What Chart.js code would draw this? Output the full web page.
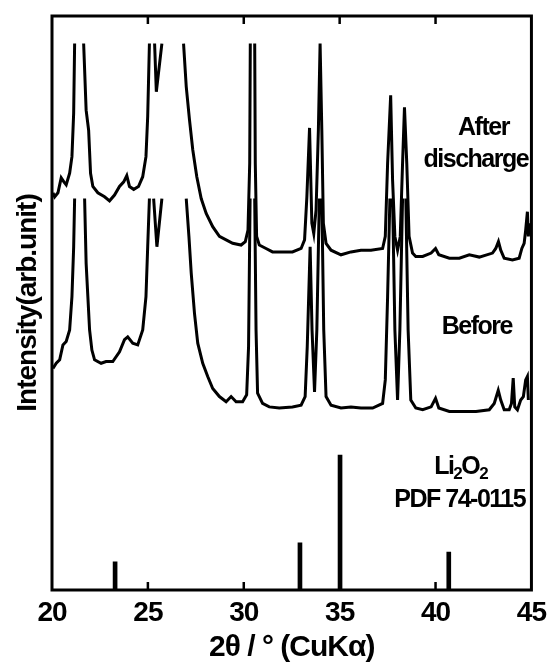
<!DOCTYPE html>
<html>
<head>
<meta charset="utf-8">
<script src="https://cdn.jsdelivr.net/npm/chart.js@4/dist/chart.umd.min.js"></script>
<style>
  html, body { margin: 0; padding: 0; background: #fff; }
  #wrap { width: 552px; height: 666px; }
</style>
</head>
<body>
<div id="wrap"><canvas id="xrd"></canvas></div>
<script>
// 2theta positions and intensities (arb. units, 0-100), null = peak cut off at the top
var afterX = [20.05,20.14,20.31,20.48,20.62,20.74,20.92,21.04,21.13,21.18,21.4,
  21.65,21.78,21.91,22.01,22.13,22.39,22.74,23.00,23.26,23.52,23.74,23.90,24.04,24.26,24.51,24.73,24.90,24.99,25.08,25.2,
  25.35,25.44,25.73,26.3,
  26.86,27.00,27.17,27.34,27.55,27.78,28.04,28.38,28.73,29.08,29.42,29.86,30.08,30.22,30.31,30.34,30.45,
  30.57,30.60,30.67,30.81,31.16,31.50,32.02,32.54,32.99,33.17,33.29,33.43,33.55,33.65,33.77,33.89,33.98,34.07,34.15,34.29,
  34.55,35.07,35.59,36.11,36.63,37.24,37.38,37.50,37.66,37.76,37.88,38.02,38.16,38.28,38.38,38.50,38.62,38.80,38.97,39.33,
  39.77,40.00,40.17,40.72,41.24,41.76,42.28,42.97,43.14,43.28,43.40,43.58,44.01,44.36,44.50,44.62,44.70,44.79,44.84,44.88];
var afterY = [69.2,68.5,69.2,71.8,71.1,70.6,72.6,75.5,83.1,95.2,null,
  95.2,83.6,80.1,72.6,70.3,69.2,68.5,67.8,68.8,70.3,71.1,72.2,70.3,69.8,70.3,72.0,75.5,82.5,95.2,null,
  95.2,86.8,95.2,null,
  95.2,87.7,81.9,76.7,72.0,68.2,65.6,63.3,61.6,61.0,60.4,60.1,60.7,62.7,74.4,95.2,null,
  95.2,74.4,61.6,60.1,59.5,58.9,58.9,58.9,59.5,61.0,68.5,80.5,63.9,62.1,66.2,80.1,95.2,80.1,63.9,60.4,
  59.2,58.4,58.9,59.2,59.2,59.5,61.6,74.3,86.2,71.4,61.6,59.2,61.6,74.3,84.1,74.3,61.6,58.7,58.1,58.1,
  58.7,59.5,58.4,57.8,57.8,58.4,58.0,58.7,59.5,60.7,59.2,57.8,57.5,57.8,59.5,60.4,62.7,65.9,61.6,63.9];

var beforeX = [20.05,20.22,20.40,20.57,20.74,20.92,21.04,21.13,21.18,21.45,
  21.70,21.78,21.87,21.96,22.08,22.22,22.56,22.82,23.17,23.52,23.78,23.95,24.21,24.47,24.73,24.90,24.99,25.08,25.2,
  25.30,25.47,25.73,26.4,
  27.00,27.14,27.26,27.43,27.60,27.86,28.12,28.38,28.73,29.08,29.34,29.60,29.94,30.15,30.25,30.33,30.45,
  30.57,30.64,30.72,30.98,31.33,31.85,32.54,32.99,33.20,33.31,33.46,33.56,33.69,33.81,33.94,34.0,
  34.07,34.17,34.29,34.55,35.07,35.59,36.11,36.72,37.24,37.38,37.50,37.62,37.69,
  37.76,37.88,38.02,38.14,38.28,38.36,
  38.45,38.57,38.71,38.97,39.33,39.77,40.00,40.17,40.72,41.41,
  42.11,42.80,43.06,43.27,43.40,43.58,43.84,43.96,44.05,44.13,44.27,44.44,44.58,44.70,44.79,44.84];
var beforeY = [38.6,39.5,40.1,42.7,43.3,45.3,51.1,59.8,68.2,null,
  68.2,56.9,51.1,45.3,41.8,40.1,39.5,39.8,39.8,41.5,43.6,44.1,43.0,42.7,45.3,51.1,59.8,68.2,null,
  68.2,59.8,68.2,null,
  68.2,61.6,55.2,48.2,43.0,39.5,37.2,35.1,33.7,32.8,33.7,32.8,32.8,34.0,42.4,68.2,null,
  68.2,45.3,34.3,32.5,31.9,31.7,31.9,32.2,33.7,42.4,59.8,45.3,34.5,45.3,68.2,null,
  68.2,45.3,33.7,32.2,31.7,31.9,31.7,31.7,32.5,36.6,51.1,68.2,null,
  68.2,45.3,33.1,45.3,68.2,null,
  68.2,45.3,33.1,31.7,31.4,31.9,33.4,31.7,31.1,31.1,
  31.1,31.4,32.5,34.8,33.1,31.4,31.4,32.5,36.9,31.9,31.4,33.1,33.7,36.6,37.2,33.1];

// Li2O2 reference pattern (PDF 74-0115)
var refX = [23.29, 32.93, 35.02, 40.69];
var refY = [4.9, 8.2, 23.5, 6.6];

var xTicks = [20, 25, 30, 35, 40, 45];

function pts(xs, ys) {
  return xs.map(function (v, i) { return { x: v, y: ys[i] }; });
}

var FONT = '"Liberation Sans", Arial, Helvetica, sans-serif';

var framePlugin = {
  id: 'frame',
  beforeLayout: function (chart) { chart.ctx.letterSpacing = '-1px'; },
  beforeDraw: function (chart) { chart.ctx.letterSpacing = '-1px'; },
  afterDraw: function (chart) {
    var ctx = chart.ctx, a = chart.chartArea, x = chart.scales.x, y = chart.scales.y;
    ctx.save();
    ctx.strokeStyle = '#000';
    ctx.lineWidth = 3;
    ctx.strokeRect(a.left, a.top, a.right - a.left, a.bottom - a.top);
    ctx.lineWidth = 2.5;
    xTicks.forEach(function (v) {
      if (v === xTicks[0] || v === xTicks[xTicks.length - 1]) return;
      var px = x.getPixelForValue(v);
      ctx.beginPath();
      ctx.moveTo(px, a.bottom); ctx.lineTo(px, a.bottom - 8);
      ctx.moveTo(px, a.top); ctx.lineTo(px, a.top + 8);
      ctx.stroke();
    });

    ctx.fillStyle = '#000';
    ctx.textAlign = 'center';
    ctx.textBaseline = 'middle';
    ctx.letterSpacing = '-1.5px';
    ctx.font = 'bold 25px ' + FONT;
    ctx.fillText('After', x.getPixelForValue(42.5), y.getPixelForValue(80.5));
    ctx.fillText('discharge', x.getPixelForValue(42.1), y.getPixelForValue(74.9));
    ctx.fillText('Before', x.getPixelForValue(42.15), y.getPixelForValue(45.8));
    ctx.fillText('PDF 74-0115', x.getPixelForValue(41.26), y.getPixelForValue(15.7));

    // Li2O2 with subscripts
    var big = 'bold 25px ' + FONT, small = 'bold 17px ' + FONT;
    var parts = [['Li', big, 0], ['2', small, 7], ['O', big, 0], ['2', small, 7]];
    var total = 0;
    parts.forEach(function (p) { ctx.font = p[1]; total += ctx.measureText(p[0]).width; });
    var cx = x.getPixelForValue(41.31) - total / 2, cy = y.getPixelForValue(21.4);
    ctx.textAlign = 'left';
    parts.forEach(function (p) {
      ctx.font = p[1];
      ctx.fillText(p[0], cx, cy + p[2]);
      cx += ctx.measureText(p[0]).width;
    });
    ctx.restore();
  }
};

new Chart(document.getElementById('xrd'), {
  type: 'line',
  data: {
    datasets: [{
      label: 'After discharge',
      data: pts(afterX, afterY),
      borderColor: '#000',
      borderWidth: 3,
      pointRadius: 0,
      tension: 0,
      spanGaps: false
    }, {
      label: 'Before',
      data: pts(beforeX, beforeY),
      borderColor: '#000',
      borderWidth: 3,
      pointRadius: 0,
      tension: 0,
      spanGaps: false
    }, {
      type: 'bar',
      label: 'Li2O2 PDF 74-0115',
      data: pts(refX, refY),
      backgroundColor: '#000',
      barThickness: 4
    }]
  },
  options: {
    responsive: true,
    maintainAspectRatio: false,
    animation: false,
    layout: { padding: { left: 0, right: 19, top: 16, bottom: 0 } },
    plugins: { legend: { display: false }, tooltip: { enabled: false } },
    scales: {
      x: {
        type: 'linear',
        min: 20, max: 45,
        offset: false,
        afterBuildTicks: function (scale) {
          scale.ticks = xTicks.map(function (v) { return { value: v }; });
        },
        afterFit: function (scale) { scale.height = 76; },
        grid: { display: false, drawTicks: false },
        border: { display: false },
        ticks: {
          color: '#000',
          padding: 6,
          maxRotation: 0,
          font: { family: FONT, size: 28, weight: 'bold' }
        },
        title: {
          display: true,
          text: '2θ / ° (CuKα)',
          color: '#000',
          padding: { top: 4, bottom: 0 },
          font: { family: FONT, size: 30, weight: 'bold' }
        }
      },
      y: {
        min: 0, max: 100,
        afterFit: function (scale) { scale.width = 52; },
        grid: { display: false, drawTicks: false },
        border: { display: false },
        ticks: { display: false },
        title: {
          display: true,
          text: 'Intensity(arb.unit)',
          color: '#000',
          padding: { top: 11, bottom: 0 },
          font: { family: FONT, size: 28, weight: 'bold' }
        }
      }
    }
  },
  plugins: [framePlugin]
});
</script>
</body>
</html>
